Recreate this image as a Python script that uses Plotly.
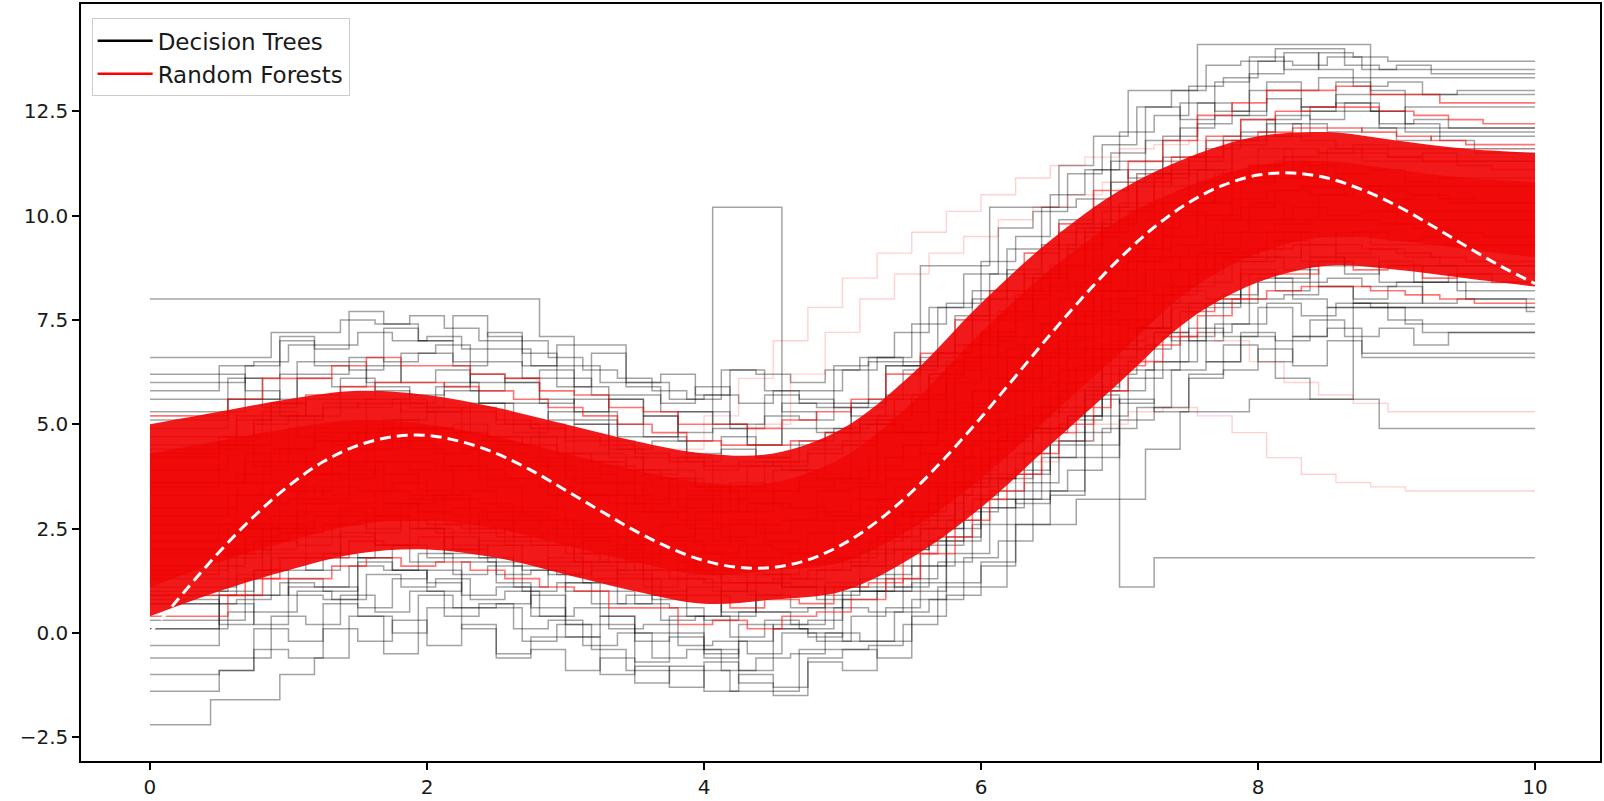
import numpy as np
import plotly.graph_objects as go

# Shared step grid for the fitted models (x from 0 to 10)
BASE_KNOTS = np.arange(0, 10.001, 0.25)
GRID_SHIFTS = [0.0, 0.125, 0.0625, 0.1875]

# Individual decision-tree predictions (step functions)
TREES = [
    [-1.4,-1.4,-0.9,-0.4,-0.6,0.1,-0.2,0.3,-0.3,0.2, -0.5,-0.4,-0.9,-0.6,-1.2,-0.8,-1.4,-1.0,-1.3,-0.7, -0.9,-0.2,0.4,0.9,1.6,2.6,3.3,4.2,5.1,5.4, 6.1,6.3,6.8,6.4,7.0,6.6,6.6,6.6,6.6,6.6, 6.6],
    [-0.6,-0.6,-0.6,0.4,0.2,0.9,0.5,1.0,0.4,0.7, 0.1,0.3,-0.3,0.0,-0.6,-0.4,-0.9,-0.6,-0.5,0.0, -0.2,0.5,0.8,1.8,2.2,3.4,3.9,4.9,5.4,6.3, 6.5,7.2,7.0,7.5,7.1,7.3,6.9,7.2,7.2,7.2, 7.2],
    [0.1,0.1,0.5,0.5,1.0,0.8,1.4,1.1,1.3,0.8, 1.0,0.4,0.6,0.1,0.2,-0.3,-0.2,-0.5,0.0,-0.2, 0.4,0.6,1.6,1.9,3.0,3.6,4.6,5.2,6.1,6.5, 7.2,7.4,7.9,7.6,7.9,7.8,7.4,7.4,7.4,7.4, 7.4],
    [0.3,0.3,0.9,1.2,1.1,1.6,1.5,1.9,1.4,1.6, 1.0,1.2,0.7,0.9,0.3,0.4,-0.1,0.3,0.1,0.6, 0.5,1.3,1.7,2.6,3.2,4.2,4.8,5.8,6.3,7.1, 7.4,8.0,8.1,8.3,8.0,8.3,7.9,8.0,8.0,7.7, 7.7],
    [0.7,0.7,1.0,1.5,1.5,1.9,1.8,2.1,1.8,1.8, 1.4,1.5,1.0,1.0,0.7,0.6,0.3,0.5,0.5,0.6, 1.1,1.4,2.2,2.7,3.7,4.3,5.3,5.9,6.8,7.2, 7.9,8.1,8.5,8.4,8.5,8.3,8.4,8.4,8.0,8.0, 8.0],
    [0.9,0.9,1.4,1.9,1.8,2.3,2.1,2.5,1.9,2.2, 1.6,1.8,1.2,1.5,0.8,1.1,0.5,0.9,0.6,1.2, 1.0,2.0,2.1,3.3,3.7,4.9,5.2,6.6,6.8,7.9, 7.8,8.7,8.5,9.0,8.6,8.9,8.4,8.6,8.6,8.6, 8.6],
    [1.3,1.3,1.3,2.2,2.1,2.6,2.5,2.7,2.4,2.5, 2.1,2.1,1.7,1.7,1.3,1.3,1.0,1.2,1.1,1.5, 1.6,2.3,2.7,3.6,4.2,5.2,5.8,6.8,7.3,8.1, 8.4,9.0,9.0,9.3,9.1,9.2,9.0,8.8,8.8,8.8, 8.8],
    [1.6,1.6,2.3,2.4,2.8,2.8,3.1,2.9,3.0,2.7, 2.7,2.3,2.3,1.9,1.9,1.5,1.6,1.4,1.7,1.7, 2.2,2.5,3.3,3.8,4.8,5.4,6.4,7.0,7.9,8.3, 9.0,9.2,9.6,9.5,9.6,9.4,9.5,9.3,9.3,9.3, 9.3],
    [2.2,2.2,2.6,3.1,3.2,3.5,3.4,3.6,3.3,3.4, 3.0,3.0,2.6,2.6,2.2,2.2,1.9,2.1,2.0,2.4, 2.5,3.2,3.6,4.5,5.1,6.1,6.7,7.7,8.2,9.0, 9.3,9.9,9.9,10.2,10.0,10.1,9.8,9.9,9.9,9.9, 9.9],
    [2.6,2.6,3.3,3.4,3.8,3.8,4.1,3.9,4.0,3.7, 3.7,3.3,3.3,2.9,2.9,2.5,2.6,2.4,2.7,2.7, 3.2,3.5,4.3,4.8,5.8,6.4,7.4,8.0,8.9,9.3, 10.0,10.2,10.6,10.5,10.7,10.4,10.5,10.3,10.3,10.3, 10.3],
    [3.3,3.3,3.6,4.1,4.1,4.5,4.4,4.6,4.3,4.4, 4.0,4.0,3.6,3.6,3.2,3.2,2.9,3.1,3.0,3.4, 3.5,4.2,4.6,5.5,6.1,7.1,7.7,8.7,9.2,10.0, 10.3,10.9,10.9,11.2,11.0,11.1,10.8,10.9,10.9,10.9, 10.9],
    [3.6,3.6,4.3,4.4,4.8,4.8,5.1,4.9,5.0,4.7, 4.7,4.3,4.3,3.9,3.9,3.5,3.6,3.4,3.7,3.7, 4.2,4.5,5.3,5.8,6.8,7.4,8.4,9.0,9.9,10.3, 11.0,11.2,11.6,11.5,11.7,11.4,11.5,11.3,11.3,11.3, 11.3],
    [4.3,4.3,4.6,5.1,5.1,5.5,5.4,5.6,5.3,5.4, 5.0,5.0,4.6,4.6,4.2,4.2,3.9,4.1,4.0,4.4, 4.5,5.2,5.6,6.5,7.1,8.1,8.7,9.7,10.2,11.0, 11.3,11.9,11.9,12.2,12.0,12.1,11.8,11.9,11.9,11.9, 11.9],
    [4.5,4.5,5.1,5.2,5.6,5.6,5.9,5.7,5.8,5.5, 5.5,5.1,5.1,4.7,4.7,4.3,4.4,4.2,4.5,4.5, 5.0,5.3,6.1,6.6,7.6,8.2,9.2,9.8,10.7,11.1, 11.8,12.0,12.4,12.3,12.5,12.2,12.3,12.1,12.1,12.1, 12.1],
    [4.9,4.9,5.6,5.4,6.1,5.9,6.4,6.0,6.3,5.8, 6.0,5.5,5.6,5.0,5.2,4.6,4.9,4.5,4.9,4.8, 5.5,5.7,6.6,6.9,8.0,8.6,9.6,10.2,11.1,11.4, 12.2,12.4,12.8,12.6,12.9,12.5,12.6,12.6,12.6,12.6, 12.6],
    [5.3,5.3,5.6,6.2,6.2,6.6,6.5,6.7,6.4,6.5, 6.1,6.1,5.7,5.7,5.3,5.3,5.0,5.2,5.1,5.5, 5.6,6.3,6.7,7.6,8.2,9.2,9.8,10.8,11.3,12.1, 12.4,13.0,13.0,13.3,13.1,13.2,12.9,13.0,13.0,13.0, 13.0],
    [5.8,5.8,6.4,6.5,6.9,6.9,7.2,7.0,7.1,6.8, 6.8,6.4,6.4,6.0,6.0,5.6,5.7,5.5,5.8,5.8, 6.3,6.6,7.4,7.9,8.9,9.5,10.5,11.1,12.0,12.4, 13.1,13.3,13.7,13.6,13.8,13.5,13.6,13.4,13.4,13.4, 13.4],
    [6.6,6.6,6.6,7.2,7.2,7.5,7.4,7.6,7.3,7.0, 7.0,6.6,6.3,6.1,5.8,5.6,6.3,6.2,6.0,6.3, 6.6,7.2,7.8,8.6,9.7,10.1,11.0,11.7,12.6,13.0, 13.6,13.7,14.0,14.0,13.6,13.5,13.5,13.5,13.5,13.5, 13.5],
    [8.0,8.0,8.0,8.0,8.0,8.0,8.0,8.0,8.0,8.0, 8.0,7.1,5.9,5.6,5.2,4.8,10.2,10.2,5.3,4.9, 5.4,6.4,8.8,8.8,10.2,10.2,11.2,11.9,13.0,13.0, 14.1,14.1,14.1,14.1,14.1,13.0,12.0,12.0,12.0,12.0, 12.0],
    [-2.2,-1.6,-1.6,-1.0,-0.6,0.4,-0.5,0.9,0.6,0.6, -0.2,0.2,-0.4,-0.9,-0.9,-0.9,-1.4,-1.4,-0.4,-0.4, -0.3,0.2,1.1,1.1,2.6,2.6,3.2,3.2,4.4,5.3, 5.3,5.6,5.6,5.6,7.9,7.9,8.8,8.2,8.2,8.2, 8.2],
    [0.8,0.8,0.2,0.9,1.3,1.0,1.7,1.5,1.2,0.9, 1.1,0.6,0.2,0.4,-0.2,0.0,-0.5,-0.2,0.2,0.3, 0.8,1.1,1.6,2.3,3.0,3.9,4.6,5.6,1.1,1.8, 1.8,1.8,1.8,1.8,1.8,1.8,1.8,1.8,1.8,1.8, 1.8],
    [1.9,1.9,2.0,2.6,2.3,3.0,2.8,3.2,2.6,2.9, 2.3,2.5,1.9,2.1,1.5,1.6,1.2,1.4,1.3,1.8, 1.9,2.6,3.1,3.9,4.6,5.4,6.0,6.9,7.3,7.8, 6.5,7.1,6.1,5.6,5.6,4.9,4.9,4.9,4.9,4.9, 4.9],
    [1.0,1.0,1.8,2.5,3.4,4.1,4.9,5.5,5.9,6.2, 6.0,5.6,5.0,4.4,3.7,3.0,2.2,1.6,1.1,0.8, 1.0,1.6,2.5,3.5,4.6,5.9,7.0,8.2,9.3,10.3, 11.1,11.8,12.3,12.6,12.7,12.5,12.2,11.8,11.5,11.5, 11.5],
    [6.2,6.2,5.8,5.2,4.6,3.9,3.1,2.5,2.1,1.7, 1.5,1.4,1.5,1.8,2.3,2.9,3.5,4.1,4.6,4.9, 5.0,4.8,4.9,5.3,6.0,6.8,7.6,8.2,8.7,9.0, 9.1,9.0,8.7,8.3,7.9,7.5,7.2,7.2,7.2,7.2, 7.2],
    [-0.3,-0.3,0.7,0.2,1.1,1.1,0.6,1.3,1.5,0.6, 0.7,0.9,-0.1,0.2,-0.7,-0.1,-0.4,-0.9,0.1,0.0, -0.2,1.0,1.0,2.2,3.2,3.1,4.5,5.7,5.5,6.5, 7.3,7.1,7.8,7.1,7.8,7.8,7.8,7.8,7.8,7.8, 7.8],
    [0.7,0.7,0.8,1.8,1.5,2.4,2.1,1.7,2.3,1.8, 1.1,1.6,1.6,0.7,0.9,0.4,1.0,0.5,0.2,1.1, 1.3,1.1,2.5,2.9,3.4,4.9,5.1,6.2,7.3,7.0, 7.9,8.6,8.2,8.8,9.0,8.4,8.4,8.4,8.4,8.4, 8.4],
    [1.5,1.5,2.5,2.0,2.9,2.9,2.4,3.1,3.3,2.4, 2.5,2.7,1.7,2.0,1.1,1.7,1.4,0.9,1.9,1.8, 1.6,2.8,2.8,4.0,5.0,4.9,6.3,7.5,7.3,8.3, 9.1,8.9,9.6,8.9,9.6,9.3,9.3,9.3,9.3,9.3, 9.3],
    [2.4,2.4,2.5,3.5,3.2,4.1,3.8,3.4,4.0,3.5, 2.8,3.3,3.3,2.4,2.6,2.1,2.7,2.2,1.9,2.8, 3.0,2.8,4.2,4.6,5.1,6.6,6.8,7.9,9.0,8.7, 9.6,10.3,9.9,10.5,10.7,10.1,10.1,10.1,10.1,10.1, 10.1],
    [3.5,3.5,4.5,4.0,4.9,4.9,4.4,5.1,5.3,4.4, 4.5,4.7,3.7,4.0,3.1,3.7,3.4,2.9,3.9,3.8, 3.6,4.8,4.8,6.0,7.0,6.9,8.3,9.5,9.3,10.3, 11.1,10.9,11.6,10.9,11.6,11.3,11.3,11.3,11.3,11.3, 11.3],
    [4.4,4.4,4.5,5.5,5.2,6.1,5.8,5.4,6.0,5.5, 4.8,5.3,5.3,4.4,4.6,4.1,4.7,4.2,3.9,4.8, 5.0,4.8,6.2,6.6,7.1,8.6,8.8,9.9,11.0,10.7, 11.6,12.3,11.9,12.5,12.7,12.1,12.1,12.1,12.1,12.1, 12.1],
    [5.1,5.1,6.1,5.6,6.5,6.5,6.0,6.7,6.9,6.0, 6.1,6.3,5.3,5.6,4.7,5.3,5.0,4.5,5.5,5.4, 5.2,6.4,6.4,7.6,8.6,8.5,9.9,11.1,10.9,11.9, 12.7,12.5,13.2,12.5,13.2,12.9,12.9,12.9,12.9,12.9, 12.9],
    [6.0,6.0,6.1,7.1,6.8,7.7,7.4,7.0,7.6,7.1, 6.4,6.9,6.9,6.0,6.2,5.7,6.3,5.8,5.5,6.4, 6.6,6.4,7.8,8.2,8.7,10.2,10.4,11.5,12.6,12.3, 13.2,13.8,13.5,13.9,13.8,13.7,13.7,13.7,13.7,13.7, 13.7],
    [0.1,0.1,0.9,1.5,0.9,0.8,1.8,1.5,1.0,1.7, 1.2,0.4,1.2,0.4,0.0,0.4,-0.6,0.2,0.1,-0.1, 1.0,1.0,1.2,2.5,3.7,3.8,4.2,5.8,6.3,7.2, 7.0,7.9,8.4,8.0,7.8,7.8,7.8,7.8,7.8,7.8, 7.8],
    [1.1,1.1,1.9,2.5,1.9,1.8,2.8,2.5,2.0,2.7, 2.2,1.4,2.2,1.4,1.0,1.4,0.4,1.2,1.1,0.9, 2.0,2.0,2.2,3.5,4.7,4.8,5.2,6.8,7.3,8.2, 8.0,8.9,9.4,9.0,8.8,8.8,8.8,8.8,8.8,8.8, 8.8],
    [3.9,3.9,4.7,5.3,4.7,4.6,5.6,5.3,4.8,5.5, 5.0,4.2,5.0,4.2,3.8,4.2,3.2,4.0,3.9,3.7, 4.8,4.8,5.0,6.3,7.5,7.6,8.0,9.6,10.1,11.0, 10.8,11.7,12.2,11.8,11.6,11.6,11.6,11.6,11.6,11.6, 11.6],
    [5.6,5.6,6.4,7.0,6.4,6.3,7.3,7.0,6.5,7.2, 6.7,5.9,6.7,5.9,5.5,5.9,4.9,5.7,5.6,5.4, 6.5,6.5,6.7,8.0,9.2,9.3,9.7,11.3,11.8,12.7, 12.5,13.4,13.9,13.5,13.3,13.3,13.3,13.3,13.3,13.3, 13.3],
    [-1.0,-1.0,-0.9,0.1,-0.2,0.7,0.4,0.0,0.6,0.1, -0.6,-0.1,-0.1,-1.0,-0.8,-1.3,-0.7,-1.2,-1.5,-0.6, -0.4,-0.6,0.8,1.2,1.7,3.2,3.4,4.5,5.6,5.3, 6.2,6.9,6.5,7.1,7.3,6.7,6.7,6.7,6.7,6.7, 6.7],
    [3.0,3.0,3.8,4.4,3.8,3.7,4.7,4.4,3.9,4.6, 4.1,3.3,4.1,3.3,2.9,3.3,2.3,3.1,3.0,2.8, 3.9,3.9,4.1,5.4,6.6,6.7,7.1,8.7,9.2,10.1, 9.9,10.8,11.3,10.9,10.7,10.7,10.7,10.7,10.7,10.7, 10.7],
]

# Random-forest predictions (averaged, smoother step functions)
FORESTS = [
    [0.4,0.4,0.9,1.3,1.3,1.6,1.8,1.6,1.7,1.5, 1.3,1.1,1.0,0.6,0.6,0.2,0.3,0.1,0.4,0.5, 0.8,1.3,1.9,2.7,3.4,4.3,5.0,5.8,6.5,7.1, 7.6,8.0,8.2,8.3,8.3,8.2,8.1,8.0,7.9,7.9, 7.9],
    [0.9,0.9,1.3,1.8,1.8,2.2,2.1,2.3,2.0,2.1, 1.7,1.7,1.3,1.3,0.9,0.9,0.6,0.8,0.7,1.1, 1.2,1.9,2.3,3.2,3.8,4.8,5.4,6.4,6.9,7.7, 8.0,8.6,8.6,8.9,8.7,8.8,8.5,8.6,8.4,8.4, 8.4],
    [1.4,1.4,1.9,2.2,2.4,2.6,2.7,2.7,2.6,2.5, 2.3,2.1,1.9,1.7,1.5,1.3,1.2,1.2,1.3,1.5, 1.8,2.3,2.9,3.6,4.4,5.2,6.0,6.8,7.5,8.1, 8.6,9.0,9.2,9.3,9.3,9.2,9.1,9.0,8.9,8.9, 8.9],
    [2.0,2.0,2.6,2.8,3.1,3.1,3.4,3.3,3.2,3.1, 2.9,2.7,2.5,2.3,2.1,1.9,1.8,1.8,1.9,2.1, 2.4,2.9,3.5,4.2,5.0,5.8,6.6,7.4,8.1,8.7, 9.2,9.6,9.8,9.9,9.9,9.8,9.7,9.6,9.5,9.5, 9.5],
    [2.8,2.8,3.3,3.6,3.8,4.0,4.1,4.1,4.0,3.9, 3.7,3.5,3.3,3.1,2.9,2.7,2.6,2.6,2.7,2.9, 3.2,3.7,4.3,5.0,5.8,6.6,7.4,8.2,8.9,9.5, 10.0,10.4,10.6,10.7,10.7,10.6,10.5,10.4,10.3,10.3, 10.3],
    [3.6,3.6,4.1,4.4,4.6,4.8,4.9,4.9,4.8,4.7, 4.5,4.3,4.1,3.9,3.7,3.5,3.4,3.4,3.5,3.7, 4.0,4.5,5.1,5.8,6.6,7.4,8.2,9.0,9.7,10.3, 10.8,11.2,11.4,11.5,11.5,11.4,11.3,11.2,11.1,11.1, 11.1],
    [4.2,4.2,4.7,5.0,5.2,5.4,5.5,5.5,5.4,5.3, 5.1,4.9,4.7,4.5,4.3,4.1,4.0,4.0,4.1,4.3, 4.6,5.1,5.7,6.4,7.2,8.0,8.8,9.6,10.3,10.9, 11.4,11.8,12.0,12.1,12.1,12.0,11.9,11.8,11.7,11.7, 11.7],
    [4.7,4.7,5.2,5.5,5.7,5.9,6.0,6.0,5.9,5.8, 5.6,5.4,5.2,5.0,4.8,4.6,4.5,4.5,4.6,4.8, 5.1,5.6,6.2,6.9,7.7,8.5,9.3,10.1,10.8,11.4, 11.9,12.3,12.5,12.6,12.6,12.5,12.4,12.3,12.2,12.2, 12.2],
    [5.2,5.2,5.6,6.1,6.1,6.4,6.6,6.4,6.4,6.2, 6.1,5.8,5.7,5.4,5.3,5.0,5.0,4.9,5.1,5.3, 5.6,6.2,6.7,7.5,8.2,9.1,9.8,10.6,11.3,11.8, 12.4,12.7,13.0,13.0,13.1,12.9,12.9,12.7,12.7,12.7, 12.7],
]

# Fainter forest runs that stray from the main band
FOREST_STRAYS = [
    [3.0,3.0,3.6,3.9,4.2,4.4,4.6,4.5,4.5,4.3, 4.2,3.9,3.8,3.6,3.5,3.4,4.0,5.0,6.2,7.2, 8.0,8.6,9.1,9.5,9.9,10.2,10.5,10.8,11.0,11.2, 11.3,11.4,11.4,11.4,11.4,11.4,11.4,11.4,11.4,11.4, 11.4],
    [2.2,2.2,2.6,2.9,3.1,3.3,3.4,3.3,3.2,3.0, 2.8,2.6,2.4,2.1,1.9,1.7,1.5,1.4,1.4,1.5, 1.7,2.0,2.5,3.0,3.6,4.1,4.6,5.0,5.3,5.4, 5.2,4.8,4.2,3.8,3.6,3.5,3.4,3.4,3.4,3.4, 3.4],
    [1.6,1.6,2.1,2.5,2.8,3.0,3.0,2.9,2.8,2.6, 2.4,2.1,1.9,1.7,1.5,1.3,1.2,1.2,1.3,1.6, 2.0,2.6,3.3,4.1,4.9,5.6,6.3,6.8,7.1,7.2, 7.0,6.5,6.0,5.7,5.5,5.3,5.3,5.3,5.3,5.3, 5.3],
    [3.9,3.9,4.4,4.7,4.9,5.0,5.0,4.9,4.7,4.5, 4.3,4.1,3.9,3.8,3.9,4.4,5.2,6.1,7.0,7.8, 8.5,9.1,9.6,10.1,10.5,10.9,11.2,11.4,11.6,11.7, 11.8,11.8,11.8,11.7,11.7,11.6,11.6,11.6,11.6,11.6, 11.6],
]

# Bands where the forest predictions pile up (main body, dense centre)
CORE_X = [0, 0.5, 1, 1.5, 2, 2.5, 3, 3.5, 4, 4.5, 5, 5.5, 6, 6.5, 7, 7.5, 8, 8.5, 9, 9.5, 10]
CORE_UPPER = [5.0, 5.3, 5.6, 5.8, 5.7, 5.4, 5.0, 4.6, 4.3, 4.3, 4.9, 6.2, 7.9, 9.4, 10.6, 11.4, 11.9, 12.0, 11.8, 11.6, 11.5]
CORE_LOWER = [0.4, 1.0, 1.5, 1.9, 2.0, 1.8, 1.4, 1.0, 0.7, 0.8, 1.0, 1.8, 3.0, 4.5, 6.0, 7.5, 8.4, 8.8, 8.7, 8.5, 8.3]
INNER_UPPER = [4.3, 4.6, 4.9, 5.1, 5.0, 4.7, 4.3, 3.9, 3.6, 3.6, 4.2, 5.5, 7.2, 8.7, 9.9, 10.7, 11.2, 11.3, 11.1, 10.9, 10.8]
INNER_LOWER = [1.1, 1.7, 2.2, 2.6, 2.7, 2.5, 2.1, 1.7, 1.4, 1.5, 1.7, 2.5, 3.7, 5.2, 6.7, 8.2, 9.1, 9.5, 9.4, 9.2, 9.0]

# True underlying function
TRUE_X = [0, 0.25, 0.5, 0.75, 1, 1.25, 1.5, 1.75, 2, 2.25, 2.5, 2.75, 3, 3.25, 3.5, 3.75, 4,
          4.25, 4.5, 4.75, 5, 5.25, 5.5, 5.75, 6, 6.25, 6.5, 6.75, 7, 7.25, 7.5, 7.75, 8,
          8.25, 8.5, 8.75, 9, 9.25, 9.5, 9.75, 10]
TRUE_Y = [0.00, 0.99, 1.94, 2.79, 3.52, 4.10, 4.49, 4.70, 4.73, 4.58, 4.30, 3.90, 3.42,
          2.93, 2.45, 2.04, 1.73, 1.57, 1.57, 1.75, 2.12, 2.67, 3.38, 4.23, 5.16, 6.15,
          7.15, 8.10, 8.97, 9.72, 10.31, 10.73, 10.97, 11.02, 10.90, 10.62, 10.24, 9.77,
          9.27, 8.79, 8.37]

X_TICKS = [0, 2, 4, 6, 8, 10]
Y_TICKS = [-2.5, 0.0, 2.5, 5.0, 7.5, 10.0, 12.5]
Y_TICK_TEXT = ["\u22122.5", "0.0", "2.5", "5.0", "7.5", "10.0", "12.5"]


def knots(shift):
    k = BASE_KNOTS.copy()
    k[1:-1] += shift
    return k


fig = go.Figure()

for i, vals in enumerate(TREES):
    fig.add_trace(go.Scatter(
        x=knots(GRID_SHIFTS[i % len(GRID_SHIFTS)]), y=vals, mode="lines",
        line=dict(color="rgba(0,0,0,0.36)", width=1.5, shape="hv"),
        showlegend=False, hoverinfo="skip"))

for i, vals in enumerate(FOREST_STRAYS):
    fig.add_trace(go.Scatter(
        x=knots(GRID_SHIFTS[(i + 1) % len(GRID_SHIFTS)]), y=vals, mode="lines",
        line=dict(color="rgba(255,0,0,0.18)", width=1.4, shape="hv"),
        showlegend=False, hoverinfo="skip"))

for i, vals in enumerate(FORESTS):
    fig.add_trace(go.Scatter(
        x=knots(GRID_SHIFTS[(i + 2) % len(GRID_SHIFTS)]), y=vals, mode="lines",
        line=dict(color="rgba(255,0,0,0.55)", width=1.6, shape="hv"),
        showlegend=False, hoverinfo="skip"))

for lower, upper, colour in [
    (CORE_LOWER, CORE_UPPER, "rgba(240,0,0,0.90)"),
    (INNER_LOWER, INNER_UPPER, "rgba(240,0,0,0.60)"),
]:
    fig.add_trace(go.Scatter(
        x=CORE_X, y=lower, mode="lines", line=dict(width=0, shape="spline"),
        showlegend=False, hoverinfo="skip"))
    fig.add_trace(go.Scatter(
        x=CORE_X, y=upper, mode="lines", line=dict(width=0, shape="spline"),
        fill="tonexty", fillcolor=colour, showlegend=False, hoverinfo="skip"))

fig.add_trace(go.Scatter(
    x=TRUE_X, y=TRUE_Y, mode="lines",
    line=dict(color="white", width=3, dash="11px,6px", shape="spline"),
    showlegend=False, hoverinfo="skip"))

# Legend entries
fig.add_trace(go.Scatter(x=[None], y=[None], mode="lines", name="Decision Trees",
                         line=dict(color="black", width=2.5)))
fig.add_trace(go.Scatter(x=[None], y=[None], mode="lines", name="Random Forests",
                         line=dict(color="red", width=2.5)))

axis_common = dict(
    showgrid=False, zeroline=False, showline=True, mirror=True,
    linecolor="black", linewidth=1.5, ticks="outside", ticklen=7,
    tickwidth=1.5, tickcolor="black",
    tickfont=dict(family="DejaVu Sans", size=20, color="#1a1a1a"),
)

fig.update_layout(
    width=1604, height=801,
    margin=dict(l=81, r=4, t=2, b=38),
    paper_bgcolor="white", plot_bgcolor="white",
    xaxis=dict(range=[-0.498, 10.469], tickvals=X_TICKS, **axis_common),
    yaxis=dict(range=[-3.07, 15.07], tickvals=Y_TICKS, ticktext=Y_TICK_TEXT, **axis_common),
    legend=dict(
        x=0.007, y=0.981, xanchor="left", yanchor="top", traceorder="normal",
        bgcolor="rgba(255,255,255,0.85)", bordercolor="#cccccc", borderwidth=1,
        font=dict(family="DejaVu Sans", size=23, color="#1a1a1a"),
        itemwidth=55, tracegroupgap=2,
    ),
)

fig.write_html("out.html")
